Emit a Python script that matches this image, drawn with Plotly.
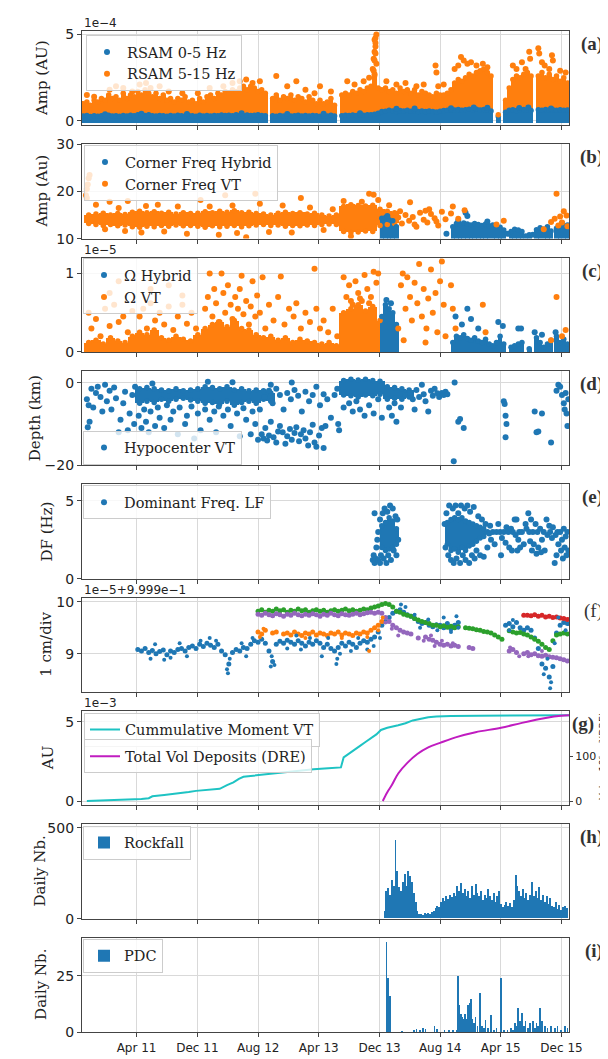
import numpy as np
import plotly.graph_objects as go
from datetime import datetime, timedelta

# ====================== DATA (time given as decimal year) ======================
x_tick_dates = ["2011-04-01", "2011-12-01", "2012-08-01", "2013-04-01",
                "2013-12-01", "2014-08-01", "2015-04-01", "2015-12-01"]
x_tick_text = ["Apr 11", "Dec 11", "Aug 12", "Apr 13", "Dec 13", "Aug 14", "Apr 15", "Dec 15"]
x_range = ["2010-08-25", "2015-12-31"]

# (a) RSAM, units of 1e-4, binned envelope every 0.04 yr starting 2010.66
rsam_t0, rsam_step = 2010.66, 0.04
rsam_hf_hi = [
    1.0, 1.1, 0.9, 1.2, 1.1, 1.3, 1.2, 1.5, 1.3, 1.4,
    1.2, 1.6, 1.3, 1.5, 1.4, 1.7, 1.5, 1.8, 1.6, 1.4,
    1.6, 1.3, 1.5, 1.2, 1.3, 1.1, 1.3, 1.2, 1.4, 1.1,
    1.2, 1.0, 1.3, 1.1, 1.4, 1.5, 1.3, 1.6, 1.5, 1.7,
    1.6, 1.8, 1.7, 1.9, 2.0, 1.8, 2.0, 1.9, 1.7, 1.8,
    1.6, None, 1.3, 1.5, 1.2, 1.4, 1.3, 1.5, 1.2, 1.4,
    1.3, 1.1, 1.4, 1.2, 1.0, 1.2, 1.0, 1.1, 1.3, 0.9,
    None, 1.5, 1.6, 1.5, 1.7, 1.6, 1.8, 1.7, 1.9, 2.0,
    2.6, 1.9, 1.8, 1.9, 1.7, 1.8, 1.6, 1.9, 1.7, 1.8,
    1.6, 1.8, 1.5, 1.7, 1.6, 1.5, 1.4, 1.6, 1.5, 1.5,
    1.6, 1.8, 2.2, 2.4, 2.3, 2.5, 2.7, 2.6, 2.8, 2.9,
    3.0, 2.8, 2.6, None, 0.35, None, 1.2, 1.9, 2.4, 2.6,
    2.5, 2.7, 2.8, 2.6, None, 2.6, 2.8, 2.5, 2.7, 2.4,
    2.6, 2.3, 2.5, 2.2]
rsam_lf_hi = [
    0.28, 0.32, 0.25, 0.30, 0.27, 0.30, 0.26, 0.33, 0.28, 0.30,
    0.27, 0.31, 0.29, 0.33, 0.30, 0.35, 0.30, 0.32, 0.36, 0.30,
    0.28, 0.32, 0.30, 0.27, 0.31, 0.29, 0.33, 0.30, 0.28, 0.32,
    0.30, 0.27, 0.33, 0.29, 0.31, 0.28, 0.32, 0.30, 0.34, 0.31,
    0.33, 0.30, 0.35, 0.32, 0.30, 0.34, 0.31, 0.33, 0.36, 0.32,
    0.30, None, 0.30, 0.27, 0.31, 0.29, 0.32, 0.28, 0.30, 0.33,
    0.29, 0.31, 0.28, 0.32, 0.30, 0.27, 0.31, 0.29, 0.33, 0.28,
    None, 0.30, 0.33, 0.31, 0.34, 0.32, 0.35, 0.33, 0.36, 0.36,
    0.38, 0.45, 0.55, 0.56, 0.62, 0.58, 0.55, 0.60, 0.57, 0.61,
    0.56, 0.59, 0.55, 0.58, 0.54, 0.57, 0.55, 0.52, 0.56, 0.60,
    0.62, 0.65, 0.63, 0.66, 0.62, 0.64, 0.68, 0.65, 0.67, 0.63,
    0.66, 0.62, 0.58, None, 0.25, None, 0.50, 0.62, 0.65, 0.60,
    0.63, 0.66, 0.62, 0.60, None, 0.64, 0.62, 0.66, 0.63, 0.65,
    0.62, 0.64, 0.61, 0.63]
rsam_lf_dots = [(2010.9, 0.38), (2011.3, 0.42), (2011.8, 0.40), (2012.4, 0.45), (2012.9, 0.40),
                (2013.3, 0.41), (2013.7, 0.44), (2014.1, 0.70), (2014.3, 0.72), (2014.7, 0.74),
                (2014.95, 0.78), (2015.1, 0.76), (2015.45, 0.75), (2015.55, 0.78), (2015.8, 0.72)]
rsam_hf_dots = [
    (2010.70, 1.5), (2010.78, 1.4), (2010.95, 1.8), (2011.02, 2.0), (2011.10, 1.9), (2011.20, 1.7),
    (2011.28, 2.1), (2011.35, 2.2), (2011.40, 1.9), (2011.50, 2.0), (2011.60, 1.7), (2011.75, 1.6),
    (2011.92, 1.6), (2012.05, 1.9), (2012.20, 2.0), (2012.30, 2.2), (2012.38, 2.3), (2012.45, 2.4),
    (2012.52, 2.2), (2012.60, 2.3), (2012.78, 2.6), (2012.90, 2.0), (2013.00, 2.3), (2013.10, 1.8),
    (2013.20, 1.6), (2013.26, 2.0), (2013.38, 1.7), (2013.56, 2.3), (2013.64, 2.1), (2013.74, 2.3),
    (2013.80, 2.5), (2013.84, 3.0), (2013.85, 3.6), (2013.86, 4.0), (2013.86, 4.7), (2013.87, 4.8),
    (2013.88, 5.0), (2013.87, 3.9), (2013.88, 3.3), (2013.85, 2.9), (2013.86, 3.5), (2013.87, 4.3),
    (2013.87, 4.5), (2013.86, 2.7), (2013.99, 2.3), (2014.10, 2.1), (2014.20, 2.2), (2014.32, 2.0),
    (2014.40, 2.1), (2014.53, 3.2), (2014.54, 2.8), (2014.56, 2.0), (2014.62, 2.1), (2014.74, 3.0),
    (2014.78, 3.2), (2014.81, 3.7), (2014.84, 3.5), (2014.88, 3.3), (2014.92, 3.4), (2014.98, 3.2),
    (2015.05, 3.3), (2015.10, 3.1), (2015.38, 3.2), (2015.42, 3.0), (2015.48, 3.4), (2015.52, 3.0),
    (2015.56, 4.0), (2015.57, 3.6), (2015.66, 4.2), (2015.67, 3.9), (2015.70, 3.4), (2015.73, 3.2),
    (2015.78, 3.0), (2015.81, 3.8), (2015.82, 3.5), (2015.90, 2.9), (2015.96, 2.8)]

# (b) corner frequency; VT dense band every 0.08 yr from 2010.72
cf_t0, cf_step = 2010.72, 0.08
cf_vt_lo = [13.2, 13.0, 12.8, 13.0, 12.7, 12.9, 12.5, 12.4, 12.6, 12.5, 12.8, 12.6, 12.9, 12.7, 12.8,
            12.6, 12.4, 12.7, 12.5, 12.6, 12.8, 12.5, 12.7, 12.9, 13.0, 12.8, 12.9, 12.6, 12.8, 12.7,
            12.9, 12.8, 13.0, 13.1, 13.0, 11.5, 11.3, 11.4, 11.6, 11.5, 12.8, 13.0, 13.2]
cf_vt_hi = [15.0, 15.2, 15.4, 15.0, 15.3, 15.1, 15.6, 15.8, 15.5, 15.7, 15.4, 15.6, 15.2, 15.5, 15.3,
            15.4, 15.7, 15.5, 15.8, 15.6, 15.9, 15.5, 15.6, 15.3, 15.2, 15.0, 15.4, 15.6, 15.3, 15.5,
            15.2, 15.4, 15.0, 14.8, 15.0, 16.8, 17.2, 17.0, 16.9, 17.1, 16.2, 15.8, 15.5]
cf_vt_dots = [
    (2010.69, 19.2), (2010.70, 18.6), (2010.71, 21.5), (2010.72, 22.8), (2010.73, 23.5), (2010.70, 20.5),
    (2010.75, 14.0), (2010.80, 17.2), (2010.90, 12.0), (2010.95, 17.8), (2011.05, 16.5), (2011.12, 11.6),
    (2011.15, 18.0), (2011.30, 11.3), (2011.35, 16.9), (2011.48, 17.2), (2011.55, 11.5), (2011.70, 16.8),
    (2011.80, 11.0), (2011.95, 18.2), (2012.05, 16.8), (2012.15, 10.8), (2012.22, 19.2), (2012.30, 17.0),
    (2012.35, 11.2), (2012.45, 10.3), (2012.55, 19.5), (2012.60, 17.4), (2012.70, 11.4), (2012.85, 17.0),
    (2012.95, 11.3), (2013.05, 18.6), (2013.15, 16.6), (2013.30, 11.8), (2013.40, 16.2), (2013.52, 18.0),
    (2013.60, 10.5), (2013.72, 17.8), (2013.80, 19.5), (2013.85, 19.3), (2013.90, 18.2), (2014.02, 17.1),
    (2014.12, 14.5), (2014.16, 13.2), (2014.20, 15.0), (2014.24, 13.8), (2014.28, 14.6), (2014.32, 12.5),
    (2014.36, 15.5), (2014.40, 14.0), (2014.44, 13.4), (2014.48, 15.2), (2014.52, 14.3), (2014.56, 12.8),
    (2014.60, 15.7), (2014.64, 14.1), (2014.25, 17.7), (2014.46, 16.2), (2014.70, 15.3), (2014.72, 16.8),
    (2014.78, 14.2), (2014.85, 16.0), (2015.20, 13.0), (2015.28, 13.8), (2015.72, 12.0), (2015.80, 13.5),
    (2015.84, 14.2), (2015.86, 19.5), (2015.88, 12.8), (2015.90, 14.7), (2015.92, 13.4), (2015.94, 15.8),
    (2015.97, 14.9), (2015.98, 12.6), (2014.14, 15.8), (2014.30, 13.0), (2014.42, 15.9), (2014.54, 13.6)]
cf_hy_band = [
    (2013.94, 14.3), (2013.98, 14.5), (2014.02, 14.0), (2014.06, 13.8), (2014.10, 12.5),
    (2014.72, 12.5), (2014.76, 13.2), (2014.80, 13.0), (2014.84, 13.3), (2014.88, 13.1), (2014.92, 12.9),
    (2014.96, 13.2), (2015.00, 13.0), (2015.04, 12.8), (2015.08, 13.1), (2015.12, 12.7), (2015.16, 12.9),
    (2015.20, 12.6), (2015.24, 12.4), (2015.28, 11.8), (2015.36, 11.5), (2015.40, 12.0), (2015.44, 11.8),
    (2015.48, 11.5), (2015.56, 10.8), (2015.64, 11.9), (2015.68, 12.3), (2015.72, 12.0), (2015.76, 12.5),
    (2015.80, 11.6), (2015.86, 12.2), (2015.90, 12.8), (2015.94, 12.5), (2015.98, 12.9)]
cf_hy_dots = [(2014.86, 15.5), (2014.88, 14.8), (2014.78, 13.8), (2014.65, 11.0), (2015.10, 13.6),
              (2015.32, 11.0), (2015.52, 10.5), (2015.60, 10.8), (2014.00, 14.8), (2015.92, 13.3)]

# (c) Omega, units of 1e-5
om_t0, om_step = 2010.72, 0.08
om_vt_band = [0.12, 0.15, 0.10, 0.18, 0.14, 0.12, 0.20, 0.25, 0.22, 0.28, 0.18, 0.15, 0.20, 0.16,
              0.14, 0.22, 0.30, 0.35, 0.38, 0.32, 0.40, 0.30, 0.28, 0.22, 0.18, 0.20, 0.15, 0.18,
              0.12, 0.16, 0.14, 0.12, 0.10, 0.12, 0.08, 0.50, 0.55, 0.60, 0.52, 0.58, 0.40]
om_vt_dots = [
    (2010.72, 0.50), (2010.75, 0.30), (2010.80, 0.42), (2010.85, 0.20), (2010.90, 0.55), (2010.95, 0.33),
    (2011.00, 0.60), (2011.05, 0.38), (2011.10, 0.45), (2011.15, 0.25), (2011.20, 0.52), (2010.95, 0.75),
    (2011.05, 0.90), (2011.28, 0.45), (2011.32, 0.55), (2011.36, 0.30), (2011.40, 0.62), (2011.45, 0.40),
    (2011.50, 0.50), (2011.55, 0.35), (2011.60, 0.58), (2011.65, 0.28), (2011.70, 0.45), (2011.75, 0.60),
    (2011.80, 0.36), (2011.85, 0.50), (2011.90, 0.30), (2011.40, 0.80), (2011.60, 0.85), (2011.75, 0.72),
    (2012.05, 1.00), (2012.18, 1.00), (2012.40, 0.97), (2012.00, 0.55), (2012.03, 0.70), (2012.08, 0.45),
    (2012.10, 0.80), (2012.12, 0.62), (2012.15, 0.38), (2012.20, 0.75), (2012.22, 0.50), (2012.25, 0.85),
    (2012.28, 0.60), (2012.30, 0.42), (2012.33, 0.70), (2012.36, 0.55), (2012.38, 0.80), (2012.42, 0.48),
    (2012.45, 0.65), (2012.48, 0.35), (2012.50, 0.58), (2012.52, 0.90), (2012.55, 0.45), (2012.57, 0.72),
    (2012.60, 0.50), (2012.63, 0.95), (2012.66, 0.30), (2012.70, 0.60), (2012.75, 0.40), (2012.80, 0.70),
    (2012.83, 0.96), (2012.87, 0.35), (2012.92, 0.55), (2012.97, 0.45), (2013.00, 0.62), (2013.05, 0.30),
    (2013.10, 0.50), (2013.15, 0.38), (2013.20, 1.06), (2013.22, 0.55), (2013.26, 0.30), (2013.30, 0.40),
    (2013.35, 0.25), (2013.40, 0.55), (2013.45, 0.20), (2013.52, 0.95), (2013.55, 0.70), (2013.58, 0.85),
    (2013.62, 0.60), (2013.65, 0.90), (2013.68, 0.75), (2013.72, 0.65), (2013.75, 0.98), (2013.78, 0.80),
    (2013.82, 0.70), (2013.85, 1.02), (2013.88, 0.88), (2013.90, 1.00), (2013.60, 0.65), (2013.70, 0.68),
    (2013.80, 0.62), (2014.12, 0.30), (2014.15, 0.85), (2014.17, 1.00), (2014.20, 0.55), (2014.22, 0.95),
    (2014.25, 0.70), (2014.27, 0.40), (2014.30, 0.88), (2014.33, 0.62), (2014.35, 1.12), (2014.38, 0.45),
    (2014.40, 0.80), (2014.43, 0.30), (2014.45, 0.68), (2014.48, 1.05), (2014.50, 0.50), (2014.53, 0.75),
    (2014.55, 0.25), (2014.58, 0.90), (2014.60, 1.15), (2014.62, 0.60), (2014.64, 0.20), (2014.18, 0.15),
    (2014.42, 0.12), (2014.70, 0.85), (2014.72, 0.55), (2014.75, 0.30), (2015.05, 0.60), (2015.08, 0.25),
    (2015.80, 0.15), (2015.86, 0.70), (2015.92, 0.20), (2015.96, 0.28)]
om_hy_band = [
    (2013.94, 0.45), (2013.98, 0.60), (2014.02, 0.55), (2014.06, 0.50), (2014.10, 0.35),
    (2014.72, 0.12), (2014.76, 0.20), (2014.80, 0.18), (2014.84, 0.22), (2014.88, 0.17), (2014.92, 0.15),
    (2014.96, 0.18), (2015.00, 0.14), (2015.04, 0.12), (2015.08, 0.16), (2015.12, 0.10), (2015.16, 0.08),
    (2015.20, 0.12), (2015.24, 0.20), (2015.28, 0.10), (2015.36, 0.06), (2015.40, 0.08), (2015.44, 0.10),
    (2015.48, 0.12), (2015.56, 0.04), (2015.64, 0.18), (2015.68, 0.12), (2015.72, 0.06), (2015.76, 0.10),
    (2015.80, 0.15), (2015.86, 0.20), (2015.90, 0.12), (2015.94, 0.16), (2015.98, 0.10)]
om_hy_dots = [(2013.99, 0.66), (2014.04, 0.62), (2014.75, 0.45), (2014.82, 0.35), (2014.88, 0.55),
              (2014.92, 0.42), (2015.00, 0.30), (2015.22, 0.38), (2015.27, 0.33), (2015.44, 0.30),
              (2015.47, 0.30), (2015.62, 0.25), (2015.70, 0.22), (2015.85, 0.25)]

# (d) hypocentre depth (km)
dep_band = [(2011.28, -5.0, -1.5), (2011.36, -4.5, -1.2), (2011.44, -4.8, -1.5), (2011.52, -4.0, -1.8),
            (2011.60, -4.5, -2.0), (2011.68, -4.0, -1.5), (2011.76, -3.8, -2.0), (2011.84, -4.2, -1.8),
            (2011.92, -4.5, -1.5), (2012.00, -5.0, -1.0), (2012.08, -4.8, -1.2), (2012.16, -5.2, -1.5),
            (2012.24, -4.5, -1.0), (2012.32, -5.5, -1.8), (2012.40, -4.8, -1.5), (2012.48, -4.5, -2.0),
            (2012.56, -5.0, -1.8), (2012.64, -4.0, -2.0), (2012.72, -4.5, -2.5),
            (2013.52, -3.0, 0.5), (2013.60, -3.2, 0.8), (2013.68, -3.5, 0.6), (2013.76, -3.0, 0.8),
            (2013.84, -3.2, 0.5), (2013.92, -2.8, 0.3), (2014.00, -4.0, -1.0), (2014.08, -3.8, -1.2),
            (2014.16, -4.0, -1.5), (2014.24, -3.5, -1.8)]
dep_dots = [
    (2010.70, -4.0), (2010.71, -10.8), (2010.72, -5.5), (2010.73, -9.5), (2010.75, -1.5), (2010.77, -6.0),
    (2010.80, -2.5), (2010.82, -1.0), (2010.85, -3.5), (2010.87, -7.0), (2010.90, -0.5), (2010.92, -4.5),
    (2010.95, -2.0), (2010.97, -6.5), (2011.00, -1.2), (2011.02, -3.8), (2011.05, -12.0), (2011.07, -9.0),
    (2011.10, -5.0), (2011.12, -2.2), (2011.15, -11.5), (2011.17, -7.5), (2011.20, -3.0), (2011.22, -10.0),
    (2011.23, -1.0), (2011.27, -8.0), (2011.30, -11.0), (2011.33, -6.5), (2011.35, -9.5), (2011.38, -12.0),
    (2011.40, -7.0), (2011.42, -0.2), (2011.45, -10.5), (2011.48, -6.0), (2011.50, -8.5), (2011.55, -11.0),
    (2011.58, -5.5), (2011.62, -9.0), (2011.65, -7.0), (2011.70, -12.5), (2011.72, -6.0), (2011.78, -10.0),
    (2011.80, -8.0), (2011.85, -5.8), (2011.88, -13.5), (2011.92, -7.5), (2011.95, -11.5), (2012.00, -6.5),
    (2012.03, 0.2), (2012.05, -9.0), (2012.10, -7.0), (2012.12, -12.0), (2012.15, -5.8), (2012.20, -8.0),
    (2012.25, -6.5), (2012.28, -10.5), (2012.30, 0.1), (2012.35, -7.5), (2012.38, -13.0), (2012.42, -6.2),
    (2012.45, -9.0), (2012.50, -12.5), (2012.52, -7.0), (2012.55, -10.0), (2012.58, -13.8), (2012.60, -6.5),
    (2012.62, -12.5), (2012.64, -13.5), (2012.66, -11.0), (2012.68, -14.0), (2012.70, -12.8), (2012.72, -9.5),
    (2012.75, -13.2), (2012.78, -14.5), (2012.80, -11.8), (2012.82, -10.5), (2012.85, -12.0), (2012.88, -14.8),
    (2012.90, -13.0), (2012.93, -11.2), (2012.95, -13.8), (2012.98, -12.2), (2013.00, -10.8), (2013.03, -14.2),
    (2013.05, -12.5), (2013.08, -11.5), (2013.10, -13.5), (2013.13, -15.2), (2013.15, -12.0), (2013.18, -10.2),
    (2013.20, -14.5), (2013.22, -15.5), (2013.25, -12.8), (2013.28, -11.0), (2013.30, -15.8), (2013.32, -10.5),
    (2012.65, -3.5), (2012.70, -2.0), (2012.74, -5.0), (2012.78, -1.5), (2012.82, -3.0), (2012.86, -6.5),
    (2012.90, -2.5), (2012.94, -4.0), (2012.98, -1.8), (2013.02, -3.2), (2013.06, -7.0), (2013.10, -2.2),
    (2013.14, -4.5), (2013.18, -3.0), (2013.22, -1.0), (2013.26, -5.5), (2013.30, -2.8), (2013.34, -4.0),
    (2013.38, -8.5), (2013.42, -3.0), (2013.45, -1.5), (2013.46, -10.0), (2013.47, -11.5), (2012.95, 0.0),
    (2012.72, -0.5), (2013.52, -6.0), (2013.58, -5.0), (2013.62, -7.0), (2013.66, -4.5), (2013.70, -6.5),
    (2013.75, -8.0), (2013.80, -5.5), (2013.85, -7.5), (2013.90, -4.0), (2013.94, -8.5), (2014.02, -6.0),
    (2014.05, -8.0), (2014.08, -5.0), (2014.10, -9.5), (2014.15, -6.0), (2014.20, -3.0), (2014.25, -2.5),
    (2014.28, -4.0), (2014.30, -6.5), (2014.32, -1.8), (2014.35, -3.5), (2014.38, -0.5), (2014.40, -2.8),
    (2014.42, -4.5), (2014.45, -7.0), (2014.48, -2.0), (2014.50, -3.2), (2014.52, -1.5), (2014.55, -2.6),
    (2014.57, -3.5), (2014.60, -2.5), (2014.62, -3.0), (2014.64, -2.2), (2014.66, -2.8), (2014.74, 0.0),
    (2014.73, -19.0), (2014.78, -9.5), (2014.80, -8.8), (2014.84, -11.0), (2015.28, -4.5), (2015.29, -5.2),
    (2015.30, -8.0), (2015.31, -10.0), (2015.30, -13.2), (2015.62, -7.0), (2015.64, -12.0), (2015.66, -11.8),
    (2015.70, -7.5), (2015.80, -14.5), (2015.86, -2.0), (2015.88, -0.5), (2015.90, -1.0), (2015.92, -3.0),
    (2015.94, -5.0), (2015.95, -6.5), (2015.96, -2.5), (2015.97, -7.5), (2015.98, -10.5), (2015.99, -4.0)]

# (e) dominant frequency LF (Hz)
df_band = [(2013.94, 2.0, 3.4), (2013.98, 1.8, 3.6), (2014.02, 1.9, 3.9), (2014.06, 2.0, 3.7),
           (2014.10, 2.2, 3.2), (2014.66, 2.2, 3.6), (2014.70, 1.8, 3.8), (2014.74, 1.9, 3.9),
           (2014.78, 1.7, 3.8), (2014.82, 2.0, 3.9), (2014.86, 1.8, 3.7), (2014.90, 2.1, 3.6),
           (2014.94, 2.2, 3.5), (2014.98, 2.4, 3.4), (2015.02, 2.6, 3.3), (2015.06, 2.7, 3.2)]
df_dots = [
    (2013.84, 1.2), (2013.85, 1.5), (2013.86, 1.0), (2013.87, 1.3), (2013.88, 2.0), (2013.89, 2.5),
    (2013.86, 4.2), (2013.90, 1.2), (2013.90, 3.0), (2013.92, 1.0), (2013.92, 3.8), (2013.93, 1.5),
    (2013.95, 4.2), (2013.96, 1.3), (2013.97, 4.5), (2013.99, 1.0), (2014.00, 4.3), (2014.01, 1.5),
    (2014.03, 4.7), (2014.04, 1.2), (2014.06, 4.5), (2014.07, 1.8), (2014.09, 4.0), (2014.10, 1.5),
    (2014.11, 3.8), (2014.12, 2.5), (2014.63, 3.5), (2014.64, 2.0), (2014.65, 4.2), (2014.67, 1.5),
    (2014.68, 4.7), (2014.70, 1.2), (2014.72, 4.5), (2014.73, 1.0), (2014.75, 4.7), (2014.76, 1.3),
    (2014.78, 4.2), (2014.80, 1.0), (2014.81, 4.7), (2014.83, 1.5), (2014.85, 4.5), (2014.86, 1.2),
    (2014.88, 4.7), (2014.90, 1.0), (2014.91, 4.3), (2014.93, 1.5), (2014.95, 4.6), (2014.96, 1.3),
    (2014.98, 1.8), (2015.00, 4.0), (2015.02, 1.5), (2015.04, 3.8), (2015.06, 1.4), (2015.08, 3.5),
    (2015.10, 2.0), (2015.10, 3.0), (2015.12, 2.9), (2015.13, 3.4), (2015.14, 2.5), (2015.16, 3.0),
    (2015.18, 2.2), (2015.20, 3.0), (2015.22, 3.5), (2015.24, 3.0), (2015.25, 1.5), (2015.26, 2.6),
    (2015.28, 3.0), (2015.30, 2.3), (2015.31, 3.3), (2015.33, 3.0), (2015.34, 2.0), (2015.36, 3.2),
    (2015.37, 1.8), (2015.38, 3.0), (2015.40, 3.8), (2015.41, 2.8), (2015.42, 3.8), (2015.43, 1.8),
    (2015.44, 2.5), (2015.45, 3.0), (2015.46, 2.0), (2015.48, 3.0), (2015.50, 2.2), (2015.52, 3.5),
    (2015.53, 3.2), (2015.55, 4.2), (2015.56, 3.0), (2015.57, 2.4), (2015.58, 3.8), (2015.59, 1.8),
    (2015.60, 3.0), (2015.61, 2.2), (2015.63, 3.5), (2015.64, 1.6), (2015.65, 3.0), (2015.66, 2.0),
    (2015.68, 3.2), (2015.69, 1.7), (2015.70, 2.5), (2015.72, 3.0), (2015.73, 1.8), (2015.75, 3.8),
    (2015.76, 2.8), (2015.78, 3.4), (2015.79, 3.0), (2015.81, 2.6), (2015.82, 3.3), (2015.84, 1.0),
    (2015.85, 2.8), (2015.86, 1.5), (2015.87, 3.0), (2015.88, 2.2), (2015.90, 3.0), (2015.91, 1.8),
    (2015.92, 2.5), (2015.93, 1.3), (2015.94, 3.2), (2015.95, 2.0), (2015.96, 2.7), (2015.97, 1.5),
    (2015.98, 3.0), (2015.99, 1.8)]

# (f) tilt, offset 9.999e-1, units 1e-5; samples every 0.04 yr
tilt_step = 0.04
tilt_blue_a_t0 = 2011.26
tilt_blue_a = [
    9.08, 9.05, 9.10, 9.02, 9.06, 9.00, 9.04, 9.07, 8.98, 9.05,
    9.02, 9.08, 9.10, 9.05, 9.12, 9.15, 9.10, 9.18, 9.14, 9.20,
    9.16, 9.12, 9.18, 9.05, 8.98, 8.80, 9.02, 9.08, 9.05, 9.12,
    9.10, 9.18, 9.25, 9.22, 9.28, 9.20, 9.05, 8.85, 9.18, 9.24,
    9.20, 9.26, 9.22, 9.18, 9.25, 9.20, 9.15, 9.22, 9.18, 9.25,
    9.20, 9.12, 9.18, 9.10, 9.05, 9.12, 9.20, 9.15, 9.22, 9.18,
    9.12, 9.20, 9.25, 9.22, 9.28, 9.32, 9.42, 9.55, 9.62, 9.70,
    9.78, 9.82, 9.85, 9.80, 9.75, 9.72, 9.68, 9.62, 9.58, 9.60,
    9.55, 9.52, 9.56, 9.55, 9.50, 9.58, 9.48, 9.55, 9.60]
tilt_blue_b_t0 = 2015.30
tilt_blue_b = [9.55, 9.58, 9.52, 9.60, 9.50, 9.45, 9.50, 9.45, 9.30, 9.10, 8.80, 8.72,
               8.55, 8.75, 9.40, 9.55, 9.60, 9.58]
tilt_blue_dots = [
    (2011.40, 8.90), (2011.45, 9.18), (2011.55, 8.88), (2011.62, 8.92), (2011.72, 9.20), (2011.80, 8.95),
    (2011.95, 9.25), (2012.05, 9.30), (2012.12, 9.25), (2012.24, 8.70), (2012.25, 8.62), (2012.27, 8.90),
    (2012.40, 9.20), (2012.45, 8.95), (2012.52, 9.30), (2012.72, 8.75), (2012.73, 8.95), (2012.76, 8.78),
    (2012.90, 9.10), (2013.00, 9.35), (2013.05, 9.08), (2013.15, 9.30), (2013.28, 8.95), (2013.35, 9.30),
    (2013.44, 8.80), (2013.45, 8.90), (2013.48, 9.00), (2013.60, 9.05), (2013.68, 9.30), (2013.78, 9.08),
    (2013.85, 9.15), (2013.92, 9.30), (2014.15, 9.95), (2014.20, 9.90), (2014.30, 9.75), (2014.36, 9.50),
    (2014.45, 9.66), (2014.55, 9.45), (2014.62, 9.70), (2014.70, 9.42), (2014.76, 9.72), (2014.78, 9.50),
    (2015.34, 9.45), (2015.38, 9.65), (2015.72, 8.60), (2015.76, 8.90), (2015.79, 8.33), (2015.80, 8.45),
    (2015.84, 9.20), (2015.88, 9.70), (2015.96, 9.45)]
tilt_orange_t0 = 2012.58
tilt_orange = [9.42, 9.38, 9.45, None, 9.40, 9.42, None, 9.38, 9.40, 9.36, 9.42, 9.38, 9.35, 9.40,
               9.38, 9.42, 9.36, 9.40, 9.38, 9.35, 9.40, 9.38, 9.42, 9.36, 9.40, 9.38, 9.35, 9.40,
               9.38, 9.42, 9.40, 9.45, 9.50, 9.55, 9.62]
tilt_orange_dots = [(2012.60, 9.32), (2012.64, 9.48), (2013.10, 9.30), (2013.50, 9.30), (2013.78, 9.32),
                    (2013.80, 9.05), (2013.90, 9.45), (2013.95, 9.70)]
tilt_green_t0 = 2012.58
tilt_green = [
    9.82, 9.85, 9.80, 9.84, 9.82, 9.86, 9.83, 9.85, 9.80, 9.84, 9.82, 9.86, 9.83, 9.85, 9.80, 9.83,
    9.85, 9.82, 9.84, 9.80, 9.83, 9.85, 9.82, 9.84, 9.86, 9.83, 9.85, 9.82, 9.84, 9.86, 9.85,
    9.88, 9.90, 9.92, 9.95, 9.97, 9.95, 9.90, 9.82, 9.80, 9.76, 9.74, 9.72, 9.68, 9.65, 9.62, 9.60,
    9.58, 9.55, 9.55, 9.52, 9.54, 9.51, 9.53, 9.50, 9.52,
    None,
    9.50, 9.49, 9.48, 9.46, 9.45, 9.43, 9.42, 9.40, 9.36, 9.32, 9.28,
    None,
    9.44, 9.42, 9.40, 9.41, 9.38, 9.36, 9.32, 9.28, 9.24, 9.18, 9.12, 9.08, 9.25, 9.36, 9.38, 9.40, 9.38]
tilt_purple_t0 = 2012.58
tilt_purple = [
    9.76, 9.74, 9.78, 9.75, 9.73, 9.77, 9.75, 9.72, 9.76, 9.74, 9.78, 9.75, 9.73, 9.76, 9.74, 9.77,
    9.75, 9.72, 9.76, 9.74, 9.78, 9.75, 9.73, 9.77, 9.75, 9.74, 9.76, 9.78, 9.75, 9.77, 9.79, 9.80,
    9.78, 9.80, 9.78,
    9.70, 9.62, 9.55, 9.50, 9.45, 9.42, 9.40, 9.38, None, 9.30, None, 9.32, 9.28, 9.26, 9.22, 9.18,
    9.16, 9.18, 9.15, 9.16, 9.14,
    None, None, 9.12, 9.10, None, None, None, None, None, None, None, None, None,
    9.05, 9.08, 9.02, None, 9.00, 9.02, 8.98, 9.00, 8.96, 8.95, 8.97, 8.94, 8.93, 8.92, 8.90, 8.88, 8.86]
tilt_purple_dots = [(2013.98, 9.60), (2014.05, 9.48), (2014.12, 9.35), (2014.40, 9.25), (2014.48, 9.35),
                    (2014.52, 9.15), (2014.60, 9.25), (2014.72, 9.20), (2015.35, 9.12), (2015.45, 8.95),
                    (2015.55, 8.95), (2015.70, 9.05)]
tilt_red_t0 = 2015.50
tilt_red = [9.74, 9.74, 9.73, 9.75, 9.72, 9.74, 9.71, 9.72, 9.70, 9.71, 9.69, 9.68, 9.66]

# (g) cumulative seismic moment VT (1e-3) and total deposit volume (1e6 m3 DRE)
moment_curve = [
    (2010.70, 0.00), (2010.90, 0.03), (2011.10, 0.07), (2011.30, 0.13), (2011.38, 0.18), (2011.42, 0.30),
    (2011.55, 0.38), (2011.72, 0.48), (2011.82, 0.57), (2011.90, 0.64), (2012.05, 0.70), (2012.16, 0.77),
    (2012.24, 1.00), (2012.31, 1.18), (2012.37, 1.40), (2012.42, 1.53), (2012.50, 1.58), (2012.60, 1.64),
    (2012.72, 1.72), (2012.85, 1.82), (2013.00, 1.90), (2013.19, 2.00), (2013.35, 2.06), (2013.49, 2.12),
    (2013.52, 2.75), (2013.60, 3.05), (2013.70, 3.48), (2013.76, 3.72), (2013.82, 3.95), (2013.88, 4.20),
    (2013.93, 4.48), (2014.00, 4.62), (2014.12, 4.78), (2014.20, 4.90), (2014.28, 5.08), (2014.37, 5.20),
    (2014.45, 5.28), (2014.54, 5.32), (2014.70, 5.36), (2015.00, 5.38), (2015.50, 5.40), (2016.00, 5.40)]
volume_curve = [
    (2013.95, 0), (2014.00, 20), (2014.05, 36), (2014.12, 62), (2014.22, 86), (2014.33, 106),
    (2014.45, 121), (2014.58, 131), (2014.76, 144), (2014.97, 155), (2015.25, 165), (2015.48, 176),
    (2015.74, 187), (2015.91, 192), (2016.00, 193)]

# (h) rockfall counts, one value per 0.02 yr from 2013.97
rock_t0, rock_step = 2013.97, 0.02
rockfall = [
    40, 150, 165, 130, 210, 180, 430, 260, 170, 150, 200, 245, 180, 260, 230, 200, 140, 90, 40, 22,
    25, 18, 28, 22, 30, 25, 35, 40, 55, 70, 60, 90, 110, 95, 120, 105, 130, 115, 140, 120,
    175, 150, 195, 140, 160, 120, 150, 110, 175, 130, 190, 140, 120, 150, 100, 130, 110, 160, 120, 100,
    140, 90, 120, 150, 80, 60, 75, 90, 70, 85, 60, 100, 236, 180, 150, 120, 160, 110, 140, 100,
    130, 200, 120, 150, 110, 170, 100, 130, 90, 120, 80, 110, 70, 60, 90, 50, 75, 45, 60, 70, 55]

# (i) PDC counts (date, count)
pdc = [
    (2013.99, 40), (2014.00, 23), (2014.01, 24), (2014.02, 16), (2014.03, 16), (2014.16, 0.5),
    (2014.29, 1), (2014.32, 1.5), (2014.36, 1.2), (2014.39, 2), (2014.42, 1.5), (2014.52, 3),
    (2014.55, 1.5), (2014.63, 1), (2014.68, 0.8), (2014.72, 1.2), (2014.76, 1), (2014.78, 25),
    (2014.79, 12), (2014.80, 7), (2014.81, 8), (2014.82, 7), (2014.83, 5), (2014.84, 6), (2014.85, 8),
    (2014.86, 4), (2014.87, 5), (2014.88, 6), (2014.89, 12), (2014.90, 9), (2014.91, 13), (2014.92, 15),
    (2014.93, 6), (2014.95, 4), (2014.97, 7), (2014.99, 3), (2015.02, 17.6), (2015.04, 3), (2015.06, 2),
    (2015.08, 5.6), (2015.11, 2), (2015.14, 7.8), (2015.17, 1), (2015.20, 2), (2015.25, 24), (2015.28, 1),
    (2015.32, 1), (2015.36, 2), (2015.38, 1), (2015.40, 4), (2015.42, 3), (2015.44, 11), (2015.46, 5),
    (2015.48, 8.5), (2015.50, 3), (2015.52, 5), (2015.55, 2), (2015.57, 4), (2015.60, 5), (2015.62, 2),
    (2015.64, 4), (2015.66, 3), (2015.68, 11), (2015.70, 5), (2015.73, 3), (2015.76, 2), (2015.80, 3),
    (2015.84, 2), (2015.87, 3), (2015.91, 1), (2015.95, 3), (2015.98, 2)]

# ====================== STYLE ======================
BLUE, ORANGE, GREEN, RED, PURPLE = "#1f77b4", "#ff7f0e", "#2ca02c", "#d62728", "#9467bd"
CYAN, MAGENTA = "#1ec3c3", "#c01cc0"
SERIF, SANS = "DejaVu Serif", "DejaVu Sans"
W, H = 608, 1059
PL, PR, PT, PB = 74, 561, 23, 1032          # plot area in pixels
P_STEP, P_H = 114.25, 95
YEAR_MS = 365.25 * 86400000
DOT = 4.5
LEG_DOT = 6
BAND_OVERLAP = 1.25


def to_dt(years):
    out = []
    for t in years:
        y = int(np.floor(t))
        start = datetime(y, 1, 1)
        n = (datetime(y + 1, 1, 1) - start).days
        out.append(start + timedelta(days=(t - y) * n))
    return out


def grid(t0, n, step):
    return [t0 + step * i for i in range(n)]


def axn(k):
    return ("x" if k == 1 else f"x{k}"), ("y" if k == 1 else f"y{k}")


def dots(xs, ys, color, k, name=None, legend=None, size=DOT):
    xa, ya = axn(k)
    keep = [(x, y) for x, y in zip(xs, ys) if x is not None and y is not None]
    return go.Scatter(x=to_dt([p[0] for p in keep]), y=[p[1] for p in keep], mode="markers",
                      marker=dict(color=color, size=size, line=dict(width=0)),
                      xaxis=xa, yaxis=ya, name=name or "",
                      showlegend=name is not None, legend=legend, hoverinfo="skip")


def band(ts, lo, hi, color, k, w, edge_lo=True, edge_hi=True):
    """Dense core drawn as a bar from lo to hi, with dots on the edges."""
    xa, ya = axn(k)
    xx, bb, hh = [], [], []
    for t, a, b in zip(ts, lo, hi):
        if a is None or b is None:
            continue
        xx.append(t); bb.append(a); hh.append(b - a)
    out = [go.Bar(x=to_dt(xx), y=hh, base=bb, width=w * YEAR_MS * BAND_OVERLAP, opacity=1,
                  marker=dict(color=color, line=dict(width=0)),
                  xaxis=xa, yaxis=ya, showlegend=False, hoverinfo="skip")]
    if edge_hi:
        out.append(dots(ts, hi, color, k, size=5.5))
    if edge_lo:
        out.append(dots(ts, lo, color, k, size=5.5))
    return out


def unzip(pairs):
    return [p[0] for p in pairs], [p[1] for p in pairs]


fig = go.Figure()

# (a)
rt = grid(rsam_t0, len(rsam_hf_hi), rsam_step)
fig.add_traces(band(rt, [-0.12 if v is not None else None for v in rsam_lf_hi], rsam_lf_hi, BLUE, 1,
                    rsam_step, edge_lo=False))
fig.add_traces(band(rt, rsam_lf_hi, rsam_hf_hi, ORANGE, 1, rsam_step, edge_lo=False))
fig.add_trace(dots(*unzip(rsam_lf_dots), BLUE, 1, "RSAM 0-5 Hz", "legend", size=LEG_DOT))
fig.add_trace(dots(*unzip(rsam_hf_dots), ORANGE, 1, "RSAM 5-15 Hz", "legend", size=LEG_DOT))

# (b)
bt = grid(cf_t0, len(cf_vt_lo), cf_step)
fig.add_traces(band(bt, cf_vt_lo, cf_vt_hi, ORANGE, 2, cf_step))
hb_t, hb_v = unzip(cf_hy_band)
fig.add_traces(band(hb_t, [9.5] * len(hb_v), hb_v, BLUE, 2, 0.04, edge_lo=False))
fig.add_trace(dots(*unzip(cf_hy_dots), BLUE, 2, "Corner Freq Hybrid", "legend2", size=LEG_DOT))
fig.add_trace(dots(*unzip(cf_vt_dots), ORANGE, 2, "Corner Freq VT", "legend2", size=LEG_DOT))

# (c)
ct = grid(om_t0, len(om_vt_band), om_step)
fig.add_traces(band(ct, [-0.02] * len(om_vt_band), om_vt_band, ORANGE, 3, om_step, edge_lo=False))
hc_t, hc_v = unzip(om_hy_band)
fig.add_traces(band(hc_t, [-0.02] * len(hc_v), hc_v, BLUE, 3, 0.04, edge_lo=False))
fig.add_trace(dots(*unzip(om_hy_dots), BLUE, 3, "Ω Hybrid", "legend3", size=LEG_DOT))
fig.add_trace(dots(*unzip(om_vt_dots), ORANGE, 3, "Ω VT", "legend3", size=LEG_DOT))

# (d)
fig.add_traces(band([b[0] for b in dep_band], [b[1] for b in dep_band], [b[2] for b in dep_band],
                    BLUE, 4, 0.08))
fig.add_trace(dots(*unzip(dep_dots), BLUE, 4, "Hypocenter VT", "legend4", size=LEG_DOT))

# (e)
fig.add_traces(band([b[0] for b in df_band], [b[1] for b in df_band], [b[2] for b in df_band],
                    BLUE, 5, 0.04))
fig.add_trace(dots(*unzip(df_dots), BLUE, 5, "Dominant Freq. LF", "legend5", size=LEG_DOT))

# (f)
for t0, vals, col in [(tilt_blue_a_t0, tilt_blue_a, BLUE), (tilt_blue_b_t0, tilt_blue_b, BLUE),
                      (tilt_orange_t0, tilt_orange, ORANGE), (tilt_green_t0, tilt_green, GREEN),
                      (tilt_purple_t0, tilt_purple, PURPLE), (tilt_red_t0, tilt_red, RED)]:
    fig.add_trace(dots(grid(t0, len(vals), tilt_step), vals, col, 6, size=5))
for pairs, col in [(tilt_blue_dots, BLUE), (tilt_orange_dots, ORANGE), (tilt_purple_dots, PURPLE)]:
    fig.add_trace(dots(*unzip(pairs), col, 6, size=4))

# (g)
mx, my = unzip(moment_curve)
fig.add_trace(go.Scatter(x=to_dt(mx), y=my, mode="lines", line=dict(color=CYAN, width=2),
                         xaxis="x7", yaxis="y7", name="Cummulative Moment VT", legend="legend7",
                         hoverinfo="skip"))
vx, vy = unzip(volume_curve)
fig.add_trace(go.Scatter(x=to_dt(vx), y=vy, mode="lines", line=dict(color=MAGENTA, width=2, shape="spline"),
                         xaxis="x7", yaxis="y10", name="Total Vol Deposits (DRE)", legend="legend8",
                         hoverinfo="skip"))

# (h)
fig.add_trace(go.Bar(x=to_dt(grid(rock_t0, len(rockfall), rock_step)), y=rockfall,
                     width=0.011 * YEAR_MS, marker=dict(color=BLUE, line=dict(width=0)), opacity=1,
                     xaxis="x8", yaxis="y8", name="Rockfall", legend="legend9", hoverinfo="skip"))
# (i)
px_, py_ = unzip(pdc)
fig.add_trace(go.Bar(x=to_dt(px_), y=py_, width=3 * 86400000,
                     marker=dict(color=BLUE, line=dict(width=0)), opacity=1,
                     xaxis="x9", yaxis="y9", name="PDC", legend="legend10", hoverinfo="skip"))

# ====================== LAYOUT ======================
def dom(k):
    top = PT + P_STEP * (k - 1)
    bot = top + P_H
    return [(PB - bot) / (PB - PT), (PB - top) / (PB - PT)]


def lx(px):
    return (px - PL) / (PR - PL)


def ly(py):
    return (PB - py) / (PB - PT)


y_specs = {
    1: dict(range=[-0.25, 5.2], tickvals=[0, 5], title="Amp (AU)", tx=34),
    2: dict(range=[10, 30], tickvals=[10, 20, 30], title="Amp (Au)", tx=34),
    3: dict(range=[0, 1.2], tickvals=[0, 1], title=None, tx=None),
    4: dict(range=[-20, 2.8], tickvals=[-20, 0], title="Depth (km)", tx=27),
    5: dict(range=[0, 6.05], tickvals=[0, 5], title="DF (Hz)", tx=38),
    6: dict(range=[8.26, 10.08], tickvals=[9, 10], title="1 cm/div", tx=38),
    7: dict(range=[-0.27, 5.67], tickvals=[0, 5], title="AU", tx=40),
    8: dict(range=[0, 518], tickvals=[0, 500], title="Daily Nb.", tx=32),
    9: dict(range=[0, 42], tickvals=[0, 25], title="Daily Nb.", tx=33),
}
AX_LINE = "#444444"
GRID = "#d9d9d9"
layout = dict(width=W, height=H, paper_bgcolor="white", plot_bgcolor="white",
              margin=dict(l=PL, r=W - PR, t=PT, b=H - PB), barmode="overlay", bargap=0,
              hovermode=False, font=dict(family=SANS, size=13, color="#222"))
x_ticks_dt = [datetime.strptime(d, "%Y-%m-%d") for d in x_tick_dates]
ann = []
for k in range(1, 10):
    xa, ya = axn(k)
    xk = "xaxis" if k == 1 else f"xaxis{k}"
    yk = "yaxis" if k == 1 else f"yaxis{k}"
    layout[xk] = dict(domain=[0, 1], anchor=ya, type="date", range=x_range,
                      tickvals=x_ticks_dt, ticktext=x_tick_text if k == 9 else [""] * 8,
                      showticklabels=(k == 9), ticks="outside", ticklen=4, tickcolor=AX_LINE,
                      showgrid=True, gridcolor=GRID, gridwidth=1, zeroline=False,
                      showline=True, linecolor=AX_LINE, linewidth=1.2, mirror=True,
                      tickfont=dict(family=SANS, size=12, color="#222"))
    s = y_specs[k]
    layout[yk] = dict(domain=dom(k), anchor=xa, range=s["range"], tickvals=s["tickvals"],
                      ticks="outside", ticklen=4, tickcolor=AX_LINE,
                      showgrid=True, gridcolor=GRID, gridwidth=1, zeroline=False,
                      showline=True, linecolor=AX_LINE, linewidth=1.2, mirror=True,
                      tickfont=dict(family=SANS, size=14, color="#222"))
    if s["title"]:
        top = PT + P_STEP * (k - 1)
        ann.append(dict(text=s["title"], textangle=-90, x=lx(s["tx"]), y=ly(top + P_H / 2),
                        xref="paper", yref="paper", xanchor="center", yanchor="middle",
                        showarrow=False, font=dict(family=SERIF, size=15, color="#222")))
layout["yaxis10"] = dict(overlaying="y7", side="right", anchor="x7", range=[-9.65, 202.65],
                         tickvals=[0, 100], ticks="outside", ticklen=3, tickcolor=AX_LINE,
                         showgrid=False, zeroline=False, showline=False,
                         tickfont=dict(family=SANS, size=11, color="#222"))

leg_common = dict(bgcolor="rgba(255,255,255,0.8)", bordercolor="#cccccc", borderwidth=1,
                  font=dict(family=SERIF, size=14.5, color="#222"), itemsizing="trace",
                  xanchor="left", tracegroupgap=0)
leg_pos = {"legend": (78, 27, "top"), "legend2": (76, 138, "top"), "legend3": (75, 252, "top"),
           "legend4": (75, 460, "bottom"), "legend5": (75, 481, "top"), "legend7": (76, 710, "top"),
           "legend8": (76, 737, "top"), "legend9": (75, 824, "top"), "legend10": (75, 938, "top")}
for name, (px, py, anc) in leg_pos.items():
    layout[name] = dict(leg_common, x=lx(px), y=ly(py), yanchor=anc)

offsets = {1: "1e−4", 3: "1e−5", 6: "1e−5+9.999e−1", 7: "1e−3"}
for k, txt in offsets.items():
    top = PT + P_STEP * (k - 1)
    ann.append(dict(text=txt, x=0, y=ly(top - 8), xref="paper", yref="paper", xanchor="left",
                    yanchor="middle", showarrow=False, font=dict(family=SANS, size=12, color="#222")))
labels = ["(a)", "(b)", "(c)", "(d)", "(e)", "(f)", "(g)", "(h)", "(i)"]
for k, lab in enumerate(labels, start=1):
    top = PT + P_STEP * (k - 1)
    xpx = 588 if lab == "(g)" else 597
    ann.append(dict(text=lab if lab == "(f)" else f"<b>{lab}</b>", x=lx(xpx), y=ly(top + 13),
                    xref="paper", yref="paper", xanchor="right", yanchor="middle", showarrow=False,
                    font=dict(family="Liberation Serif", size=19, color="#333")))
ann.append(dict(text="Vol × 10⁶ m³(DRE)", textangle=-90, x=lx(595), y=ly(PT + P_STEP * 6 + 45),
                xref="paper", yref="paper", xanchor="center", yanchor="middle", showarrow=False,
                font=dict(family=SANS, size=9.5, color="#222")))
layout["annotations"] = ann

fig.update_layout(**layout)
fig.write_html("out.html")
